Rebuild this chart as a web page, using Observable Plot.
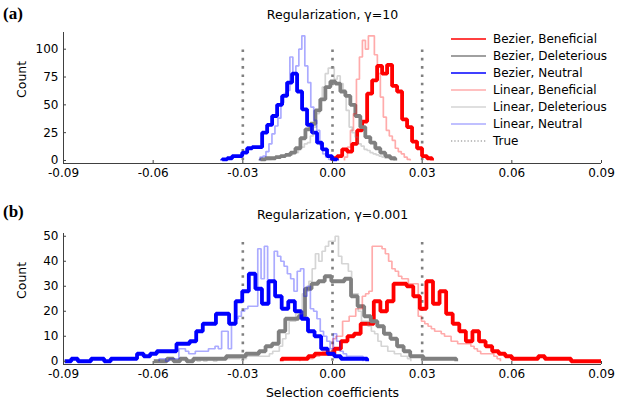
<!DOCTYPE html>
<html><head><meta charset="utf-8">
<script src="https://cdn.jsdelivr.net/npm/d3@7"></script>
<script src="https://cdn.jsdelivr.net/npm/@observablehq/plot@0.6"></script>
<style>
body{margin:0;background:#fff;}
#wrap{position:relative;width:621px;height:414px;font-family:"DejaVu Sans";}
#wrap svg{display:block;}
.legend{position:absolute;left:451px;top:30px;font-size:12px;color:#000;}
.legend .row{height:17.1px;display:flex;align-items:center;}
.legend svg{margin-right:7px;}
.plabel{position:absolute;font-family:"Liberation Serif";font-weight:bold;font-size:17px;}
</style></head>
<body><div id="wrap"></div>
<script>
// ---------- shared ----------
const seriesNames = ["Bezier, Beneficial","Bezier, Deleterious","Bezier, Neutral","Linear, Beneficial","Linear, Deleterious","Linear, Neutral"];
const ticksX = [-0.09,-0.06,-0.03,0,0.03,0.06,0.09];
const xDomain = [-0.09, 0.09];
const trueValues = [-0.03, 0, 0.03];

// ---------- panel (a): Regularization, γ=10 ----------
const titleA = "Regularization, γ=10";
const ticksYA = [0,25,50,75,100];
const yDomainA = [-2.7, 115];
const trueSpanA = [0, 100];
const aStarts = [-0.0001, -0.02409, -0.0369, 0.00401, -0.02242, -0.02426];
const aWidths = [0.00167, 0.00167, 0.00167, 0.001, 0.001, 0.001];
const aBezierBeneficial = [2,4,10,8,15,27,35,60,72,85,78,86,67,62,37,30,17,11,4,2];
const aBezierDeleterious = [1,2,2,3,4,5,7,11,20,28,33,45,55,66,71,69,62,58,50,40,30,21,16,11,7,4,2];
const aBezierNeutral = [1,2,4,4,7,11,12,12,25,32,40,50,58,70,78,62,46,32,25,16,10,4,1];
const aLinearBeneficial = [3,12,27,42,73,93,108,100,112,112,95,78,57,39,27,22,18,11,8,6,3,1];
const aLinearDeleterious = [1,1,2,2,2,3,4,5,5,7,7,10,12,15,16,22,30,42,55,66,78,83,84,73,76,69,63,45,30,25,21,15,13,10,9,7,6,5,4,3,2,2,1];
const aLinearNeutral = [3,4,8,15,24,31,38,52,60,63,93,78,85,100,112,85,70,48,36,27,14,6,3,1];

// ---------- panel (b): Regularization, γ=0.001 ----------
const titleB = "Regularization, γ=0.001";
const ticksYB = [0,10,20,30,40,50];
const yDomainB = [-1.3, 51.1];
const trueSpanB = [0, 48];
const bStarts = [-0.01698, -0.0598, -0.0896, -0.01092, -0.0475, -0.058];
const bWidths = [0.0022, 0.0022, 0.0022, 0.0011, 0.0011, 0.0011];
const bBezierBeneficial = [1,1,1,1,2,3,3,3,5,8,10,11,15,15,24,20,24,31,31,30,26,21,32,23,28,19,15,12,8,12,8,6,4,3,2,1,1,1,1,2,1,1,1,1,0,0,0,0,0];
const bBezierDeleterious = [0,0,1,0,1,0,1,1,1,1,1,2,2,2,3,3,4,6,7,12,17,17,18,29,31,32,34,32,32,33,26,22,18,16,14,11,9,6,4,2,2,1,1,1,1,1];
const bBezierNeutral = [0,1,0,0,1,1,0,1,1,1,1,3,2,3,4,4,4,7,7,8,12,15,15,19,19,15,24,28,35,29,23,32,26,21,24,20,17,12,10,5,3,2,1,1,1,1];
const bLinearBeneficial = [1,1,1,1,2,2,3,4,4,4,9,10,10,16,16,18,18,21,21,26,27,28,46,46,46,45,43,40,37,36,34,33,33,31,31,31,18,16,15,14,13,12,12,11,10,10,8,8,7,7,7,7,6,5,4,3,3,3,3,2,1];
const bLinearDeleterious = [0,1,0,1,0,1,1,0,1,1,1,1,1,1,1,2,1,2,2,2,2,2,2,2,3,4,4,6,9,11,16,16,19,19,27,28,32,37,43,40,44,46,48,48,50,42,39,39,36,27,27,20,16,16,14,12,11,8,6,6,4,4,3,3,2,2,1];
const bLinearNeutral = [1,1,0,1,1,1,5,5,4,3,3,4,4,4,4,5,5,6,5,12,12,5,15,17,18,20,21,22,22,22,45,33,46,32,32,44,42,40,38,35,33,28,36,37,26,30,21,20,17,12,10,8,5,11,8,4,3,2,2,2,2,2];

// ---------- styles ----------
const seriesColors = ["#ff0000","#808080","#0000ff","#ff0000","#808080","#0000ff"];
const seriesOpacity = [1,1,1,0.33,0.33,0.33];
const seriesStroke = [3.8,3.8,3.8,1.7,1.7,1.7];
const axisColor = "#404040";
const trueColor = "#808080";
const fmt = d => d.toFixed(2);

function steps(start, width, counts) {
  const pts = [{x: start, y: 0}];
  counts.forEach((c, i) => {
    pts.push({x: start + i * width, y: c});
    pts.push({x: start + (i + 1) * width, y: c});
  });
  pts.push({x: start + counts.length * width, y: 0});
  return pts;
}

function seriesMarks(starts, widths, countsList) {
  return countsList.map((counts, i) => Plot.line(steps(starts[i], widths[i], counts), {
    x: "x", y: "y", stroke: seriesColors[i], strokeOpacity: seriesOpacity[i],
    strokeWidth: seriesStroke[i], strokeLinejoin: "miter", strokeLinecap: "butt", clip: true
  }));
}

function panel({height, marginTop, marginBottom, yDomain, ticksY, trueSpan, title, starts, widths, countsList, xlabel}) {
  const marks = [
    Plot.ruleX(trueValues, {y1: trueSpan[0], y2: trueSpan[1], stroke: trueColor, strokeWidth: 2.6, strokeDasharray: "2.6,5.7"}),
    ...seriesMarks(starts, widths, countsList),
    Plot.ruleY([yDomain[0]], {stroke: axisColor, strokeWidth: 1}),
    Plot.ruleX([xDomain[0]], {stroke: axisColor, strokeWidth: 1}),
    Plot.axisX(ticksX, {tickSize: -3, tickPadding: 8, tickFormat: fmt, stroke: axisColor, label: null, fontSize: 12}),
    Plot.axisY(ticksY, {tickSize: -3, tickPadding: 8, stroke: axisColor, label: null, fontSize: 12}),
    Plot.text([title], {frameAnchor: "top", dy: -(marginTop - 10), fontSize: 12.5}),
    Plot.text(["Count"], {frameAnchor: "left", rotate: -90, dx: -42, fontSize: 12.5})
  ];
  if (xlabel) marks.push(Plot.text([xlabel], {frameAnchor: "bottom", dy: 32, fontSize: 12.5}));
  return Plot.plot({
    width: 621, height, marginLeft: 63, marginRight: 20, marginTop, marginBottom,
    style: {fontFamily: "DejaVu Sans", fontSize: "12px", color: "#000", background: "#fff", overflow: "visible"},
    x: {domain: xDomain},
    y: {domain: yDomain},
    marks
  });
}

const wrap = document.getElementById("wrap");
wrap.appendChild(panel({height: 200, marginTop: 32, marginBottom: 37, yDomain: yDomainA, ticksY: ticksYA, trueSpan: trueSpanA, title: titleA,
  starts: aStarts, widths: aWidths,
  countsList: [aBezierBeneficial, aBezierDeleterious, aBezierNeutral, aLinearBeneficial, aLinearDeleterious, aLinearNeutral]}));
wrap.appendChild(panel({height: 214, marginTop: 33, marginBottom: 50, yDomain: yDomainB, ticksY: ticksYB, trueSpan: trueSpanB, title: titleB,
  starts: bStarts, widths: bWidths,
  countsList: [bBezierBeneficial, bBezierDeleterious, bBezierNeutral, bLinearBeneficial, bLinearDeleterious, bLinearNeutral],
  xlabel: "Selection coefficients"}));

// panel letters
[["(a)", 3, 4], ["(b)", 3, 202]].forEach(([t, l, tp]) => {
  const d = document.createElement("div");
  d.className = "plabel"; d.textContent = t; d.style.left = l + "px"; d.style.top = tp + "px";
  wrap.appendChild(d);
});

// legend for panel (a)
const legend = document.createElement("div");
legend.className = "legend";
const ns = "http://www.w3.org/2000/svg";
function legendRow(label, color, opacity, dash, width) {
  const row = document.createElement("div"); row.className = "row";
  const s = document.createElementNS(ns, "svg"); s.setAttribute("width", 35); s.setAttribute("height", 10);
  const ln = document.createElementNS(ns, "line");
  ln.setAttribute("x1", 0); ln.setAttribute("x2", 35); ln.setAttribute("y1", 5); ln.setAttribute("y2", 5);
  ln.setAttribute("stroke", color); ln.setAttribute("stroke-opacity", opacity); ln.setAttribute("stroke-width", width);
  if (dash) ln.setAttribute("stroke-dasharray", dash);
  s.appendChild(ln); row.appendChild(s);
  const sp = document.createElement("span"); sp.textContent = label; row.appendChild(sp);
  legend.appendChild(row);
}
seriesNames.forEach((n, i) => legendRow(n, seriesColors[i], seriesOpacity[i], null, 1.6));
legendRow("True", trueColor, 1, "1.3,2", 1.2);
wrap.appendChild(legend);
</script></body></html>
